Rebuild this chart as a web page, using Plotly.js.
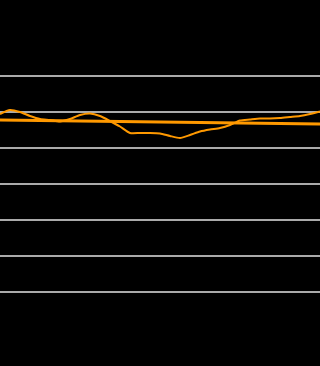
<!DOCTYPE html>
<html>
<head>
<meta charset="utf-8">
<script src="https://cdn.plot.ly/plotly-3.0.1.min.js"></script>
<style>html,body{margin:0;padding:0;background:#000;}#chart{width:320px;height:366px;}</style>
</head>
<body>
<div id="chart"></div>
<script>
const xWave = [0,1,2,3,4,5,6,7,8,9,10,11,12,13,14,15,16,17,18,19,20,21,22,23,24,25,26,27,28,29,30,31,32];
const yWave = [6.944,7.056,7.0,6.889,6.806,6.778,6.736,6.806,6.917,6.958,6.889,6.75,6.597,6.417,6.417,6.417,6.403,6.333,6.278,6.361,6.458,6.514,6.556,6.639,6.764,6.792,6.819,6.819,6.833,6.861,6.889,6.944,7.014];
const xFlat = [0,4,8,12,16,20,24,28,32];
const yFlat = [6.778,6.764,6.75,6.75,6.736,6.708,6.694,6.681,6.667];
const gridVals = [2,3,4,5,6,7,8];

const traces = [
  {x: xFlat, y: yFlat, mode: 'lines', line: {color: '#ff9900', width: 3}, hoverinfo: 'skip'},
  {x: xWave, y: yWave, mode: 'lines', line: {color: '#ff9900', width: 2, shape: 'spline', smoothing: 0.6}, hoverinfo: 'skip'}
];
const layout = {
  width: 320, height: 366,
  margin: {l: 0, r: 0, t: 0, b: 0, pad: 0},
  paper_bgcolor: '#000', plot_bgcolor: '#000',
  showlegend: false,
  xaxis: {range: [0, 32], showgrid: false, zeroline: false, showticklabels: false, showline: false, ticks: ''},
  yaxis: {range: [-0.0556, 10.111], tickvals: gridVals, showgrid: true, gridcolor: '#aaaaaa', gridwidth: 2, zeroline: false, showticklabels: false, showline: false, ticks: ''}
};
Plotly.newPlot('chart', traces, layout, {staticPlot: true, displayModeBar: false});
</script>
</body>
</html>
